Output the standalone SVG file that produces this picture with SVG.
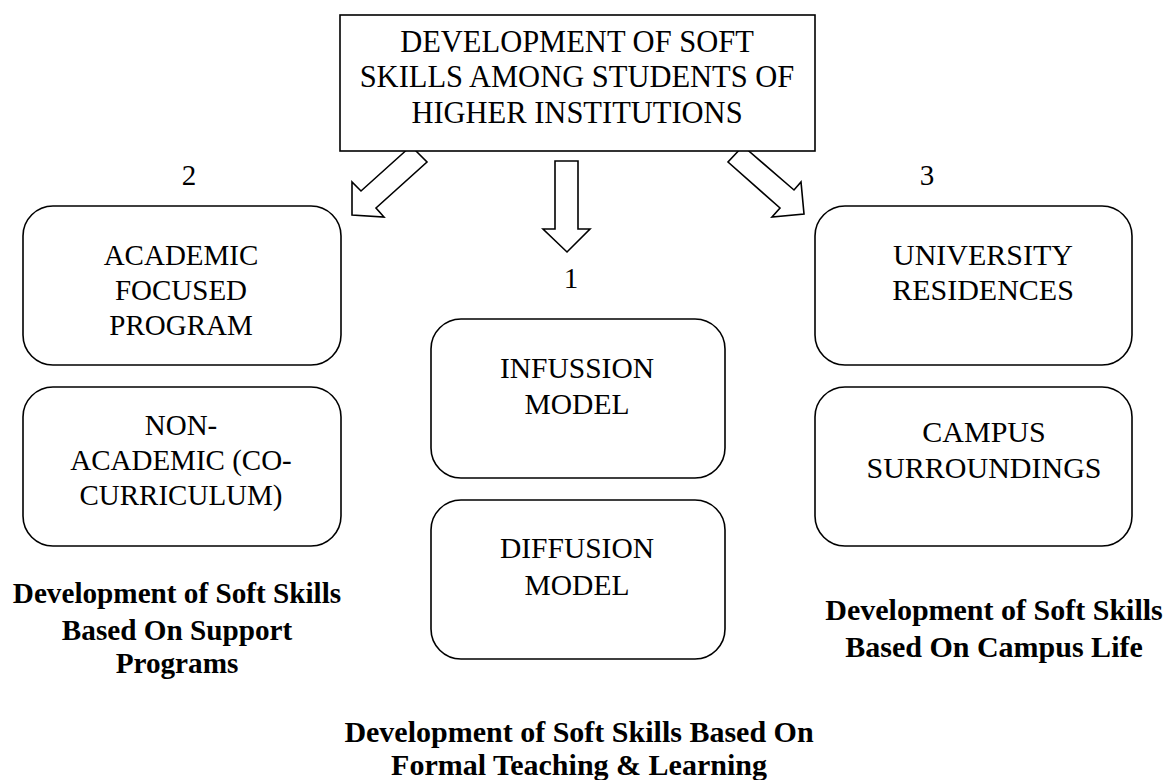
<svg xmlns="http://www.w3.org/2000/svg" width="1167" height="780" viewBox="0 0 1167 780">
  <style>
    .box { fill: #ffffff; stroke: #000000; stroke-width: 1.6; }
    .arrow { fill: #ffffff; stroke: #000000; stroke-width: 1.6; stroke-linejoin: miter; }
    .t { font-family: "Liberation Serif", "Times New Roman", serif; font-size: 29.5px; fill: #000000; text-anchor: middle; }
    .title { font-size: 30.5px; }
    .left { font-size: 29px; }
    .right { font-size: 30px; }
    .num { font-family: "Liberation Serif", "Times New Roman", serif; font-size: 29px; fill: #000000; text-anchor: middle; }
    .cap { font-family: "Liberation Serif", "Times New Roman", serif; font-size: 30px; font-weight: bold; fill: #000000; text-anchor: middle; }
    .cap-left { font-size: 29.2px; }
  </style>
  <rect width="1167" height="780" fill="#ffffff"/>

  <!-- block arrows from the title box -->
  <g id="connectors">
    <polygon class="arrow" points="411,146 361,191 352,182 352,215 384,217 376,208 427,162"/>
    <polygon class="arrow" points="555,161 578,161 578,229 590,229 567,252 543,229 555,229"/>
    <polygon class="arrow" points="743,146 794,190 801,182 804,214 772,217 780,208 728,162"/>
  </g>

  <g id="title">
    <rect class="box" x="340" y="15" width="475" height="136"/>
    <text class="t title" x="577" y="52">DEVELOPMENT OF SOFT</text>
    <text class="t title" x="577" y="87">SKILLS AMONG STUDENTS OF</text>
    <text class="t title" x="577" y="123">HIGHER INSTITUTIONS</text>
  </g>

  <g id="label-2"><text class="num" x="189" y="185">2</text></g>
  <g id="label-1"><text class="num" x="571" y="288">1</text></g>
  <g id="label-3"><text class="num" x="927" y="185">3</text></g>

  <g id="academic">
    <rect class="box" x="23" y="206" width="318" height="159" rx="30" ry="30"/>
    <text class="t left" x="181" y="265">ACADEMIC</text>
    <text class="t left" x="181" y="300">FOCUSED</text>
    <text class="t left" x="181" y="335">PROGRAM</text>
  </g>

  <g id="non-academic">
    <rect class="box" x="23" y="387" width="318" height="159" rx="30" ry="30"/>
    <text class="t left" x="181" y="435">NON-</text>
    <text class="t left" x="181" y="470">ACADEMIC (CO-</text>
    <text class="t left" x="181" y="505">CURRICULUM)</text>
  </g>

  <g id="infussion">
    <rect class="box" x="431" y="319" width="294" height="159" rx="30" ry="30"/>
    <text class="t" x="577" y="378">INFUSSION</text>
    <text class="t" x="577" y="414">MODEL</text>
  </g>

  <g id="diffusion">
    <rect class="box" x="431" y="500" width="294" height="159" rx="30" ry="30"/>
    <text class="t" x="577" y="558">DIFFUSION</text>
    <text class="t" x="577" y="595">MODEL</text>
  </g>

  <g id="residences">
    <rect class="box" x="815" y="206" width="317" height="159" rx="30" ry="30"/>
    <text class="t right" x="983" y="265">UNIVERSITY</text>
    <text class="t right" x="983" y="300">RESIDENCES</text>
  </g>

  <g id="surroundings">
    <rect class="box" x="815" y="387" width="317" height="159" rx="30" ry="30"/>
    <text class="t right" x="984" y="442">CAMPUS</text>
    <text class="t right" x="984" y="478">SURROUNDINGS</text>
  </g>

  <g id="caption-support">
    <text class="cap cap-left" x="177" y="603">Development of Soft Skills</text>
    <text class="cap cap-left" x="177" y="640">Based On Support</text>
    <text class="cap cap-left" x="177" y="673">Programs</text>
  </g>

  <g id="caption-formal">
    <text class="cap" x="579" y="742">Development of Soft Skills Based On</text>
    <text class="cap" x="579" y="775">Formal Teaching &amp; Learning</text>
  </g>

  <g id="caption-campus">
    <text class="cap" x="994" y="620">Development of Soft Skills</text>
    <text class="cap" x="994" y="657">Based On Campus Life</text>
  </g>
</svg>
